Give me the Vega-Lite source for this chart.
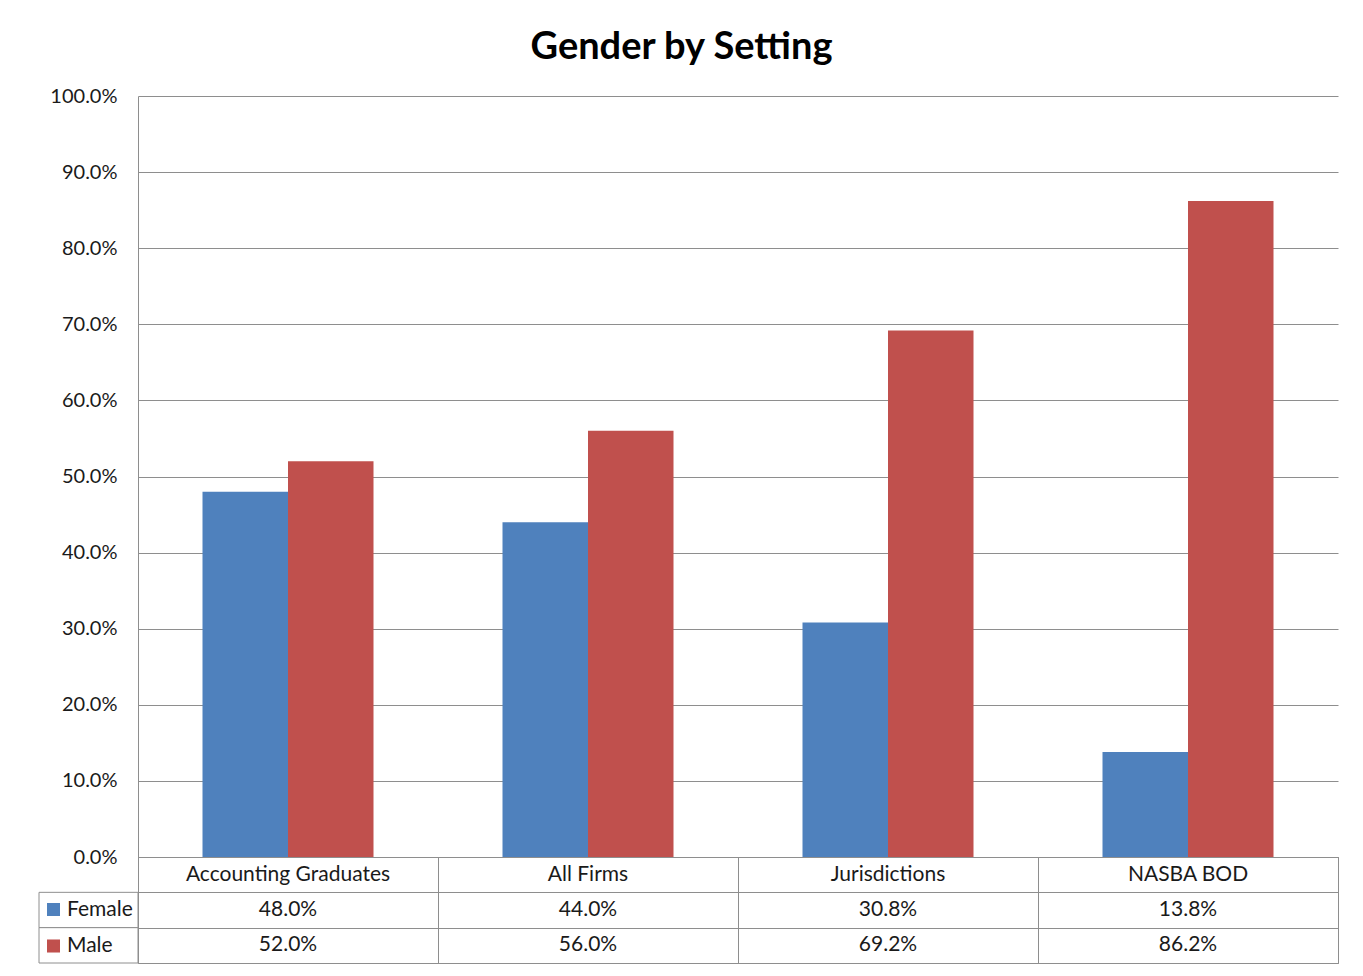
{
  "$schema": "https://vega.github.io/schema/vega-lite/v6.json",
  "padding": {"left": 38, "top": 29, "right": 25, "bottom": 12},
  "background": "white",
  "config": {"view": {"stroke": null}, "font": "Lato"},
  "title": {"text": "Gender by Setting", "font": "Lato", "fontSize": 38, "fontWeight": "bold", "color": "black", "anchor": "middle", "offset": 19, "dx": -7},
  "datasets": {
    "gender": [
      {"category": "Accounting Graduates", "series": "Female", "value": 0.48},
      {"category": "Accounting Graduates", "series": "Male", "value": 0.52},
      {"category": "All Firms", "series": "Female", "value": 0.44},
      {"category": "All Firms", "series": "Male", "value": 0.56},
      {"category": "Jurisdictions", "series": "Female", "value": 0.308},
      {"category": "Jurisdictions", "series": "Male", "value": 0.692},
      {"category": "NASBA BOD", "series": "Female", "value": 0.138},
      {"category": "NASBA BOD", "series": "Male", "value": 0.862}
    ],
    "cats": [
      {"category": "Accounting Graduates"},
      {"category": "All Firms"},
      {"category": "Jurisdictions"},
      {"category": "NASBA BOD"}
    ],
    "series": [{"series": "Female"}, {"series": "Male"}]
  },
  "columns": 2,
  "spacing": 0,
  "bounds": "flush",
  "align": "each",
  "resolve": {"scale": {"color": "independent"}, "legend": {"color": "independent"}},
  "concat": [
    {"width": 99, "height": 761, "data": {"values": []}, "mark": "point"},
    {
      "width": 1200,
      "height": 761,
      "data": {"name": "gender"},
      "mark": {"type": "bar"},
      "encoding": {
        "x": {"field": "category", "type": "nominal", "sort": ["Accounting Graduates", "All Firms", "Jurisdictions", "NASBA BOD"], "scale": {"paddingInner": 0.43, "paddingOuter": 0.215}, "axis": null},
        "xOffset": {"field": "series", "type": "nominal", "sort": ["Female", "Male"]},
        "y": {"field": "value", "type": "quantitative", "scale": {"domain": [0, 1], "nice": false},
          "axis": {"values": [0, 0.1, 0.2, 0.3, 0.4, 0.5, 0.6, 0.7, 0.8, 0.9, 1], "format": ".1%", "grid": true, "gridColor": "#8e8e8e", "gridOpacity": 1, "domainColor": "#8e8e8e", "ticks": false, "tickSize": 0, "labelPadding": 21, "labelFontSize": 20, "labelFont": "Lato", "labelColor": "#1a1a1a", "title": null}},
        "color": {"field": "series", "type": "nominal", "scale": {"domain": ["Female", "Male"], "range": ["#4F81BD", "#C0504D"]}, "legend": null}
      }
    },
    {
      "width": 99,
      "height": 106,
      "data": {"name": "series"},
      "layer": [
        {
          "mark": {"type": "rect", "fill": "white", "stroke": "#8e8e8e", "strokeWidth": 1},
          "encoding": {"y": {"field": "series", "type": "nominal", "scale": {"domain": ["header", "Female", "Male"], "paddingInner": 0, "paddingOuter": 0}, "axis": null}}
        },
        {
          "mark": {"type": "point", "filled": true, "shape": "square", "opacity": 0},
          "encoding": {
            "y": {"field": "series", "type": "nominal", "scale": {"domain": ["header", "Female", "Male"], "paddingInner": 0, "paddingOuter": 0}, "axis": null},
            "color": {"field": "series", "type": "nominal", "scale": {"domain": ["Female", "Male"], "range": ["#4F81BD", "#C0504D"]},
              "legend": {"orient": "none", "legendX": 4, "legendY": 42, "title": null, "symbolType": "square", "symbolSize": 170, "symbolOpacity": 1, "symbolStrokeWidth": 0, "labelFontSize": 21, "labelFont": "Lato", "labelColor": "#1a1a1a", "labelOffset": 3, "rowPadding": 14.5, "padding": 0}}
          }
        }
      ]
    },
    {
      "width": 1200,
      "height": 106,
      "view": {"stroke": "#8e8e8e"},
      "encoding": {
        "x": {"field": "category", "type": "nominal", "sort": ["Accounting Graduates", "All Firms", "Jurisdictions", "NASBA BOD"], "scale": {"paddingInner": 0, "paddingOuter": 0},
          "axis": {"grid": true, "tickBand": "extent", "gridColor": "#8e8e8e", "gridOpacity": 1, "labels": false, "ticks": false, "domain": false, "title": null}}
      },
      "layer": [
        {
          "data": {"name": "gender"},
          "mark": {"type": "text", "fontSize": 21, "font": "Lato", "color": "#1a1a1a"},
          "encoding": {
            "y": {"field": "series", "type": "nominal", "scale": {"domain": ["header", "Female", "Male"], "paddingInner": 0, "paddingOuter": 0},
              "axis": {"grid": true, "tickBand": "extent", "gridColor": "#8e8e8e", "gridOpacity": 1, "labels": false, "ticks": false, "domain": false, "title": null}},
            "text": {"field": "value", "type": "quantitative", "format": ".1%"}
          }
        },
        {
          "data": {"name": "cats"},
          "mark": {"type": "text", "fontSize": 21, "font": "Lato", "color": "#1a1a1a"},
          "encoding": {
            "y": {"datum": "header", "type": "nominal",
              "axis": {"grid": true, "tickBand": "extent", "gridColor": "#8e8e8e", "gridOpacity": 1, "labels": false, "ticks": false, "domain": false, "title": null}},
            "text": {"field": "category", "type": "nominal"}
          }
        }
      ]
    }
  ]
}
